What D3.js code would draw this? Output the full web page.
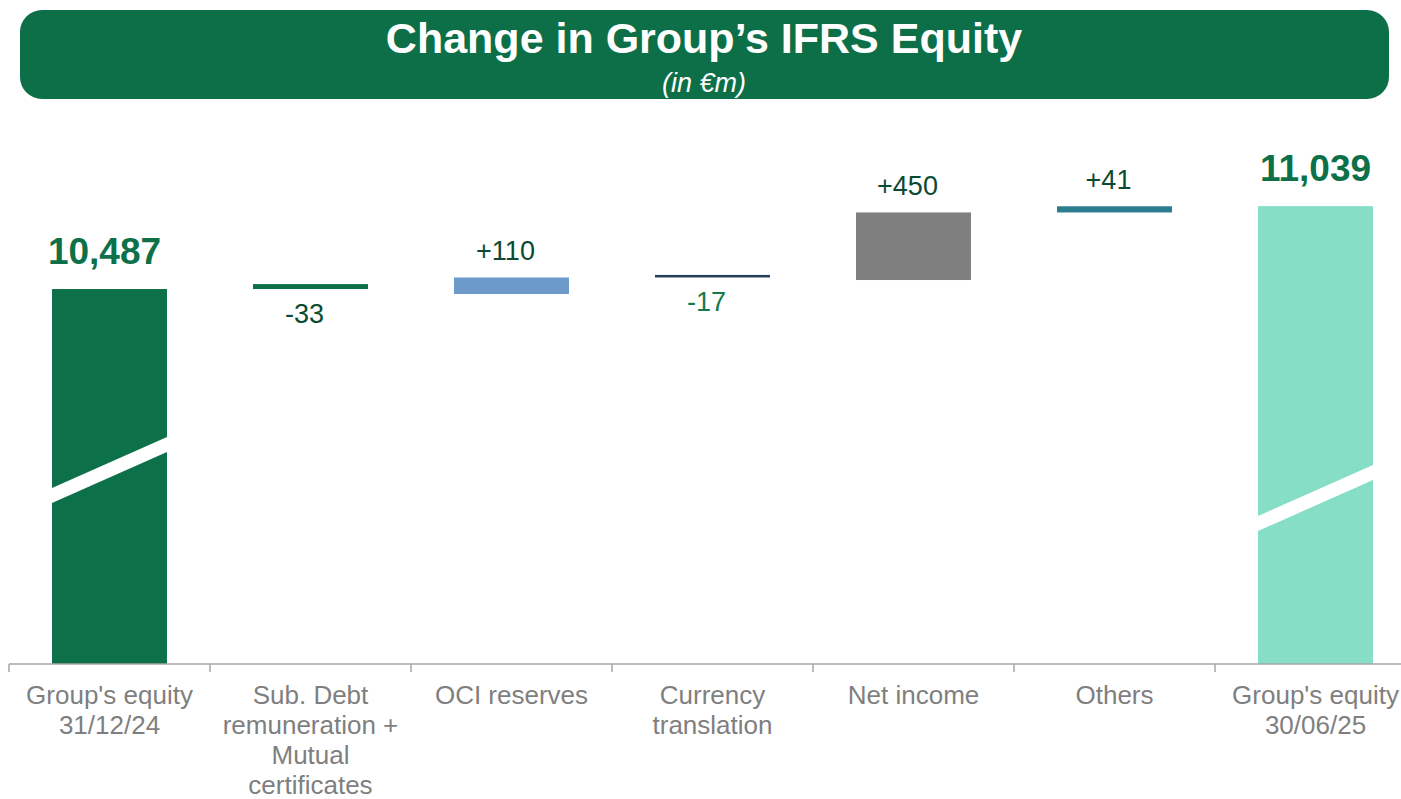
<!DOCTYPE html>
<html>
<head>
<meta charset="utf-8">
<script src="https://cdn.jsdelivr.net/npm/d3@7"></script>
<style>
  body { margin: 0; background: #fff; }
  text { font-family: "Liberation Sans", Arial, sans-serif; }
</style>
</head>
<body>
<div id="chart"></div>
<script>
// data
var categories = [
  "Group's equity\n31/12/24",
  "Sub. Debt\nremuneration +\nMutual\ncertificates",
  "OCI reserves",
  "Currency\ntranslation",
  "Net income",
  "Others",
  "Group's equity\n30/06/25"
];
var values = [10487, -33, 110, -17, 450, 41, 11039];
var kinds = ["total", "delta", "delta", "delta", "delta", "delta", "total"];

// styles
var barColors = ["#0c7049", "#0c7049", "#6c9bcb", "#243f5c", "#7f7f7f", "#2b7d8f", "#86dec6"];
var deltaLabelColors = ["#0c7049", "#0b4a32", "#0b4a32", "#137a4f", "#0b4a32", "#0b4a32", "#0c7049"];
var green = "#0c6f48";

var width = 1401, height = 799;
var baseY = 664;

var svg = d3.select("#chart")
  .append("svg")
  .attr("width", width)
  .attr("height", height);

// title banner
svg.append("rect")
  .attr("x", 20)
  .attr("y", 10)
  .attr("width", 1369)
  .attr("height", 89)
  .attr("rx", 22)
  .style("fill", green);

svg.append("text")
  .attr("x", 704)
  .attr("y", 53)
  .attr("text-anchor", "middle")
  .attr("font-size", "43px")
  .attr("font-weight", "bold")
  .style("fill", "white")
  .text("Change in Group\u2019s IFRS Equity");

svg.append("text")
  .attr("x", 704)
  .attr("y", 92)
  .attr("text-anchor", "middle")
  .attr("font-size", "27px")
  .attr("font-style", "italic")
  .style("fill", "white")
  .text("(in \u20acm)");

// scales (value axis is broken, it starts well above zero)
var x = d3.scaleBand()
  .domain(d3.range(categories.length))
  .range([9, 1416])
  .paddingInner(0.428)
  .paddingOuter(0.214);

var y = d3.scaleLinear()
  .domain([7990, 11000])
  .range([baseY, 212]);

var fmt = d3.formatLocale({decimal: ".", thousands: ",", grouping: [3], currency: ["", "\u20ac"], minus: "-"});
var fmtTotal = fmt.format(",");
var fmtDelta = fmt.format("+,");

// waterfall geometry
var level = 0;
var bars = values.map(function(v, i) {
  var b = {i: i, value: v, kind: kinds[i]};
  if (kinds[i] == "total") {
    b.y0 = d3.min(y.domain());
    b.y1 = v;
    level = v;
  } else if (v >= 0) {
    b.y0 = level;
    b.y1 = level + v;
    level = level + v;
  } else {
    // the reference draws falls upward from the previous level
    b.y0 = level;
    b.y1 = level - v;
    level = level + v;
  }
  return b;
});

svg.selectAll("rect.bar")
  .data(bars)
  .enter()
  .append("rect")
  .attr("class", "bar")
  .attr("x", function(d) { return x(d.i); })
  .attr("y", function(d) { return y(Math.max(d.y0, d.y1)); })
  .attr("width", x.bandwidth())
  .attr("height", function(d) { return Math.abs(y(d.y0) - y(d.y1)); })
  .style("fill", function(d) { return barColors[d.i]; });

// axis break marks on the total bars
var breakMid = [470, 498];
var slope = 51;
var thick = 15;
bars.filter(function(d) { return d.kind == "total"; }).forEach(function(d, k) {
  var x0 = x(d.i), x1 = x(d.i) + x.bandwidth();
  var m = breakMid[k];
  var pts = [
    [x0, m + slope / 2 - thick / 2],
    [x1, m - slope / 2 - thick / 2],
    [x1, m - slope / 2 + thick / 2],
    [x0, m + slope / 2 + thick / 2]
  ];
  svg.append("polygon")
    .attr("points", pts.map(function(p) { return p.join(","); }).join(" "))
    .style("fill", "white");
});

// value labels
svg.selectAll("text.val")
  .data(bars)
  .enter()
  .append("text")
  .attr("class", "val")
  .attr("x", function(d) { return x(d.i) + x.bandwidth() / 2 + (d.kind == "total" ? (d.i == 0 ? -5 : 0) : -6); })
  .attr("y", function(d) {
    if (d.kind == "total") return y(d.y1) - 25;
    if (d.value >= 0) return y(d.y1) - 17;
    return y(d.y0) + 34;
  })
  .attr("text-anchor", "middle")
  .attr("font-size", function(d) { return d.kind == "total" ? "37px" : "27px"; })
  .attr("font-weight", function(d) { return d.kind == "total" ? "bold" : "normal"; })
  .style("fill", function(d) { return deltaLabelColors[d.i]; })
  .text(function(d) { return d.kind == "total" ? fmtTotal(d.value) : fmtDelta(d.value); });

// category axis with ticks between bands
var axis = svg.append("g").attr("class", "axis");
axis.append("line")
  .attr("x1", 9)
  .attr("x2", width)
  .attr("y1", baseY)
  .attr("y2", baseY)
  .style("stroke", "#a6a6a6")
  .style("stroke-width", 1.5);

axis.selectAll("line.tick")
  .data(d3.range(categories.length + 1))
  .enter()
  .append("line")
  .attr("class", "tick")
  .attr("x1", function(i) { return 9 + i * x.step(); })
  .attr("x2", function(i) { return 9 + i * x.step(); })
  .attr("y1", baseY)
  .attr("y2", baseY + 8)
  .style("stroke", "#a6a6a6")
  .style("stroke-width", 1.5);

axis.selectAll("text.cat")
  .data(categories)
  .enter()
  .append("text")
  .attr("class", "cat")
  .attr("text-anchor", "middle")
  .attr("font-size", "26px")
  .style("fill", "#7f7f7f")
  .each(function(c, i) {
    var t = d3.select(this);
    c.split("\n").forEach(function(line, j) {
      t.append("tspan")
        .attr("x", x(i) + x.bandwidth() / 2)
        .attr("y", 704 + j * 30)
        .text(line);
    });
  });
</script>
</body>
</html>
